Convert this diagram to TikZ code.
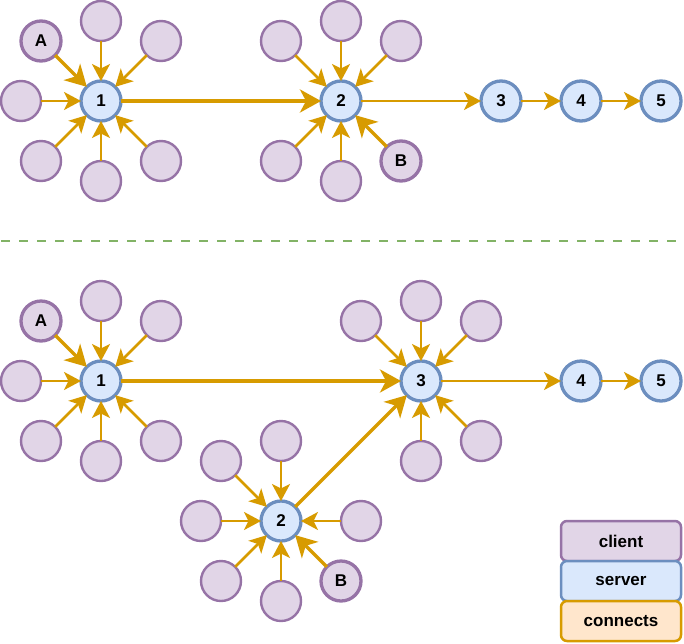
\documentclass[tikz,border=0pt]{standalone}
\usepackage{fontspec}
\setmainfont{Liberation Sans}
\usetikzlibrary{arrows.meta}
\definecolor{clfill}{HTML}{E1D5E7}
\definecolor{clline}{HTML}{9673A6}
\definecolor{svfill}{HTML}{DAE8FC}
\definecolor{svline}{HTML}{6C8EBF}
\definecolor{cnfill}{HTML}{FFE6CC}
\definecolor{cnline}{HTML}{D79B00}
\definecolor{sepline}{HTML}{82B366}
\begin{document}
\begin{tikzpicture}[x=1pt,y=-1pt,
  font=\fontsize{17}{20}\selectfont\bfseries,
  client/.style={circle, minimum size=40pt, inner sep=0pt, outer sep=0pt, fill=clfill, draw=clline, line width=2.4pt},
  keyclient/.style={client, line width=3.3pt},
  server/.style={circle, minimum size=40pt, inner sep=0pt, outer sep=0pt, fill=svfill, draw=svline, line width=3.3pt},
  link/.style={draw=cnline, line width=2.6pt, -{Stealth[length=17pt,width=18pt,inset=4.5pt]}},
  biglink/.style={draw=cnline, line width=3.5pt, -{Stealth[length=21pt,width=23pt,inset=6pt]}},
  legendbox/.style={rectangle, rounded corners=6pt, minimum width=120pt, minimum height=40pt, inner sep=0pt, line width=2.5pt}
 ]
\useasboundingbox (0,0) rectangle (684,643);

% ---------- top scenario ----------
\node[server] (t1) at (101,101) {1};
\node[server] (t2) at (341,101) {2};
\node[server] (t3) at (501,101) {3};
\node[server] (t4) at (581,101) {4};
\node[server] (t5) at (661,101) {5};

\foreach \n/\x/\y in {n/101/21, ne/161/41, w/21/101, sw/41/161, s/101/181, se/161/161}{
  \node[client] (t1\n) at (\x,\y) {};
  \draw[link] (t1\n) -- (t1);
}
\node[keyclient] (tA) at (41,41) {A};
\draw[biglink] (tA) -- (t1);

\foreach \n/\x/\y in {n/341/21, nw/281/41, ne/401/41, sw/281/161, s/341/181}{
  \node[client] (t2\n) at (\x,\y) {};
  \draw[link] (t2\n) -- (t2);
}
\node[keyclient] (tB) at (401,161) {B};
\draw[biglink] (tB) -- (t2);

\draw[biglink] (t1) -- (t2);
\draw[link] (t2) -- (t3);
\draw[link] (t3) -- (t4);
\draw[link] (t4) -- (t5);

% ---------- separator ----------
\coordinate (sepL) at (1,241);
\coordinate (sepR) at (682,241);
\draw[sepline, line width=2.5pt, dash pattern=on 9pt off 9pt] (sepL) -- (sepR);

% ---------- bottom scenario ----------
\node[server] (b1) at (101,381) {1};
\node[server] (b3) at (421,381) {3};
\node[server] (b2) at (281,521) {2};
\node[server] (b4) at (581,381) {4};
\node[server] (b5) at (661,381) {5};

\foreach \n/\x/\y in {n/101/301, ne/161/321, w/21/381, sw/41/441, s/101/461, se/161/441}{
  \node[client] (b1\n) at (\x,\y) {};
  \draw[link] (b1\n) -- (b1);
}
\node[keyclient] (bA) at (41,321) {A};
\draw[biglink] (bA) -- (b1);

\foreach \n/\x/\y in {nw/361/321, n/421/301, ne/481/321, s/421/461, se/481/441}{
  \node[client] (b3\n) at (\x,\y) {};
  \draw[link] (b3\n) -- (b3);
}

\foreach \n/\x/\y in {nw/221/461, n/281/441, w/201/521, e/361/521, sw/221/581, s/281/601}{
  \node[client] (b2\n) at (\x,\y) {};
  \draw[link] (b2\n) -- (b2);
}
\node[keyclient] (bB) at (341,581) {B};
\draw[biglink] (bB) -- (b2);

\draw[biglink] (b1) -- (b3);
\draw[biglink] (b2) -- (b3);
\draw[link] (b3) -- (b4);
\draw[link] (b4) -- (b5);

% ---------- legend ----------
\node[legendbox, fill=clfill, draw=clline] (lgc) at (621,541) {client};
\node[legendbox, fill=svfill, draw=svline] (lgs) at (621,581) {server};
\node[legendbox, fill=cnfill, draw=cnline] (lgn) at (621,621) {connects};
\end{tikzpicture}
\end{document}
